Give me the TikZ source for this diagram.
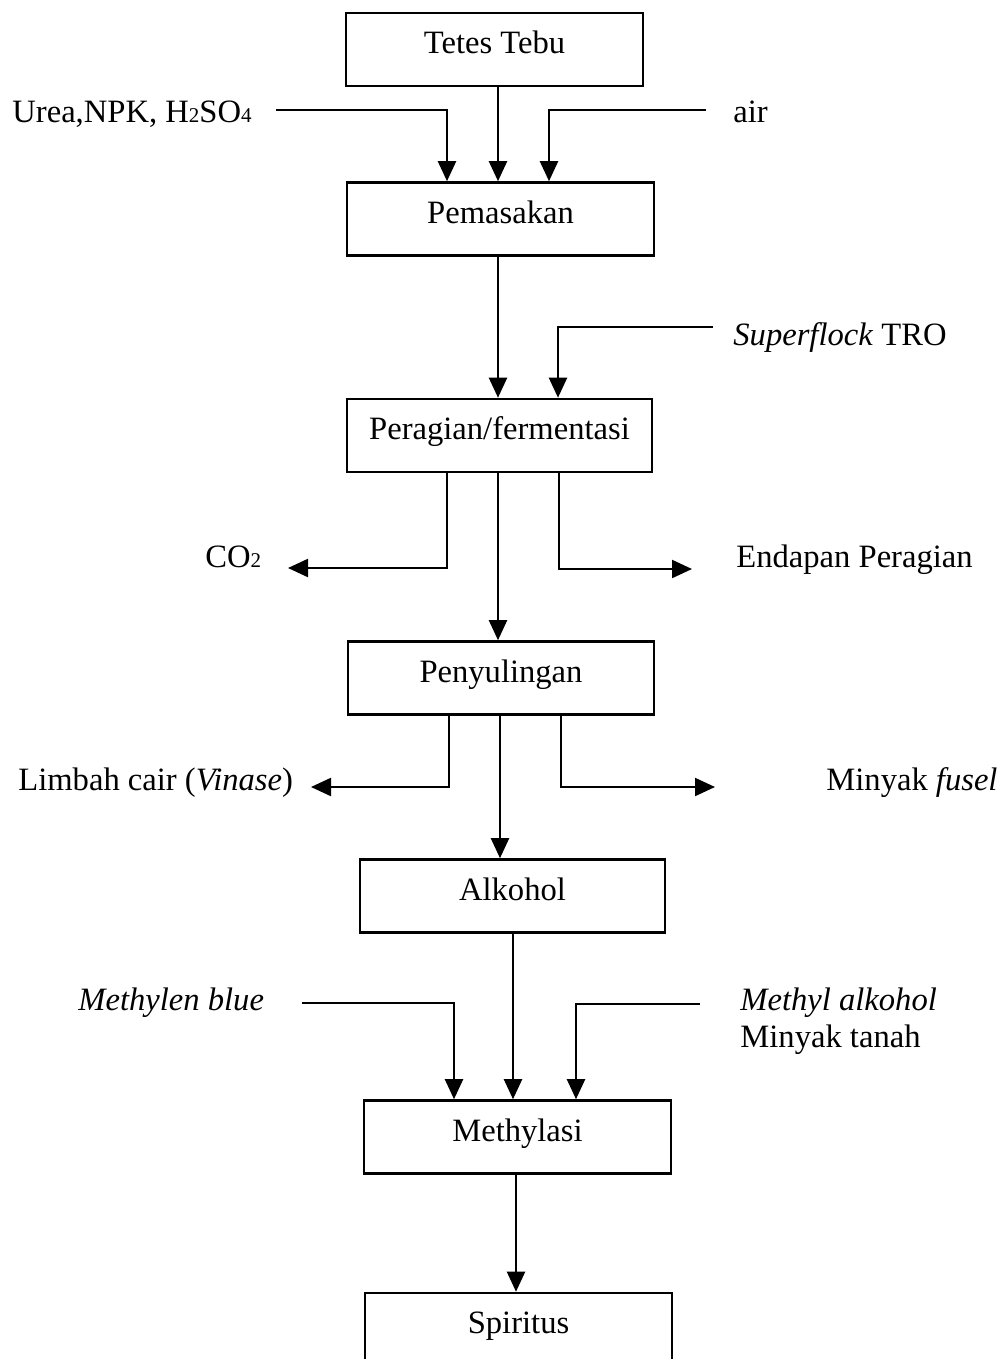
\documentclass[tikz,border=0pt]{standalone}
\usepackage{fontspec}
\setmainfont{Liberation Serif}
\usetikzlibrary{arrows.meta}
\newcommand\lowsub[1]{{\fontsize{10.5}{12}\selectfont #1}}
\begin{document}
\begin{tikzpicture}[x=0.5pt,y=-0.5pt,
  every node/.style={font=\fontsize{16.3}{19.5}\selectfont, inner sep=0pt},
  procbox/.style={draw, line width=1.3pt, minimum height=36.5pt, text height=8pt, text depth=4pt},
  flow/.style={line width=1.1pt, -{Triangle[length=10pt,width=9pt]}},
  lbl/.style={anchor=base west}]
\useasboundingbox (0,0) rectangle (1002,1359);
\clip (0,0) rectangle (1002,1359);

% process boxes
\node[procbox, minimum width=148.5pt] (tetes) at (494.5,49.5) {Tetes Tebu};
\node[procbox, minimum width=153.5pt] (pem) at (500.5,219) {Pemasakan};
\node[procbox, minimum width=152.5pt] (per) at (499.5,435.5) {Peragian/fermentasi};
\node[procbox, minimum width=153pt] (peny) at (501,678) {Penyulingan};
\node[procbox, minimum width=152.5pt] (alk) at (512.5,896) {Alkohol};
\node[procbox, minimum width=153.5pt] (meth) at (517.5,1137) {Methylasi};
\node[procbox, minimum width=153.5pt] (spir) at (518.5,1329.5) {Spiritus};

% side labels
\node[lbl] (urea) at (12,123) {Urea,NPK, H\lowsub{2}SO\lowsub{4}};
\node[lbl] (air) at (733,123) {air};
\node[lbl] (superf) at (733,345) {\textit{Superflock} TRO};
\node[lbl] (co2) at (205,567) {CO\lowsub{2}};
\node[lbl] (endap) at (736,567) {Endapan Peragian};
\node[lbl] (limbah) at (18,790) {Limbah cair (\textit{Vinase})};
\node[lbl] (fusel) at (826,790) {Minyak \textit{fusel}};
\node[lbl] (mblue) at (78,1010) {\textit{Methylen blue}};
\node[lbl] (malk) at (740,1010) {\textit{Methyl alkohol}};
\node[lbl] (mtanah) at (740,1047) {Minyak tanah};

% x positions of legs
\coordinate (xa) at (498,0);
\coordinate (xua) at (447,0);
\coordinate (xair) at (549,0);
\coordinate (xsf) at (558,0);
\coordinate (xco) at (447,0);
\coordinate (xend) at (559,0);
\coordinate (xl) at (449,0);
\coordinate (xf) at (561,0);
\coordinate (xpm) at (500,0);
\coordinate (xam) at (513,0);
\coordinate (xmb) at (454,0);
\coordinate (xma) at (576,0);
\coordinate (xms) at (516,0);

% free ends
\coordinate (ureaend) at (276,110);
\coordinate (airend) at (706,110);
\coordinate (sfend) at (713,327);
\coordinate (co2end) at (288,568);
\coordinate (endend) at (692,569);
\coordinate (limend) at (311,787);
\coordinate (fusend) at (715,787);
\coordinate (mbend) at (302,1003);
\coordinate (maend) at (700,1004);

% main flow
\draw[flow] (tetes.south -| xa) -- (pem.north -| xa);
\draw[flow] (pem.south -| xa) -- (per.north -| xa);
\draw[flow] (per.south -| xa) -- (peny.north -| xa);
\draw[flow] (peny.south -| xpm) -- (alk.north -| xpm);
\draw[flow] (alk.south -| xam) -- (meth.north -| xam);
\draw[flow] (meth.south -| xms) -- (spir.north -| xms);

% inputs
\draw[flow] (ureaend) -| (pem.north -| xua);
\draw[flow] (airend) -| (pem.north -| xair);
\draw[flow] (sfend) -| (per.north -| xsf);
\draw[flow] (mbend) -| (meth.north -| xmb);
\draw[flow] (maend) -| (meth.north -| xma);

% outputs
\draw[flow] (per.south -| xco) |- (co2end);
\draw[flow] (per.south -| xend) |- (endend);
\draw[flow] (peny.south -| xl) |- (limend);
\draw[flow] (peny.south -| xf) |- (fusend);
\end{tikzpicture}
\end{document}
